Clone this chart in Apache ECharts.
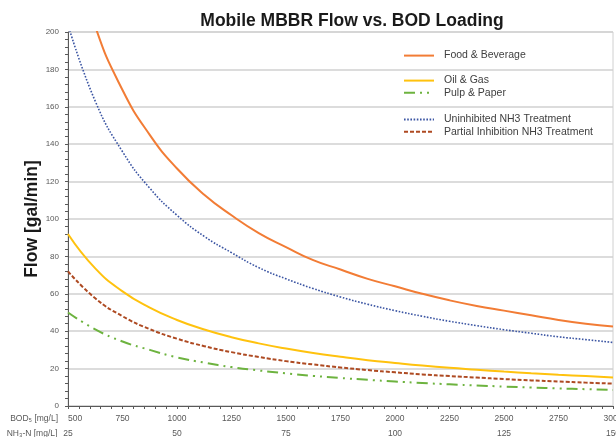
<!DOCTYPE html>
<html>
<head>
<meta charset="utf-8">
<script src="https://cdn.jsdelivr.net/npm/echarts@6/dist/echarts.min.js"></script>
<style>
  html, body { margin: 0; padding: 0; background: #fff; }
  #chart { width: 616px; height: 437px; }
</style>
</head>
<body>
<div id="chart"></div>
<script>
// BOD5 loading [mg/L]
var bod = [500, 625, 750, 875, 1000, 1125, 1250, 1375, 1500, 1625, 1750, 1875, 2000, 2125, 2250, 2375, 2500, 2625, 2750, 2875, 3000];
// flow [gal/min]
var foodBev = [254, 203, 169, 145, 127, 113, 102, 92.5, 85, 78, 73, 68, 64, 60, 56.5, 53.5, 51, 48.5, 46, 44, 42.5];
var oilGas = [92, 73.6, 61.3, 52.6, 46, 40.9, 36.8, 33.5, 30.7, 28.3, 26.3, 24.5, 23, 21.6, 20.4, 19.4, 18.4, 17.5, 16.7, 16, 15.3];
var pulpPaper = [50, 41, 34.5, 30, 26, 23.2, 20.8, 19, 17.5, 16.1, 15, 14, 13.1, 12.3, 11.6, 11, 10.4, 9.9, 9.4, 9, 8.6];
var uninhibited = [204, 163, 136, 116.5, 102, 90.7, 82, 74, 68, 62.8, 58.3, 54.4, 51, 48, 45.3, 43, 40.8, 38.9, 37, 35.5, 34];
var partial = [72, 57.6, 48, 41.1, 36, 32, 28.8, 26.2, 24, 22.2, 20.6, 19.2, 18, 16.9, 16, 15.2, 14.4, 13.7, 13.1, 12.5, 12];

function pairs(vals) {
  return bod.map(function (b, i) { return [b, vals[i]]; });
}

var chart = echarts.init(document.getElementById('chart'));
var labelFont = 'Liberation Sans';
var legendText = { fontFamily: labelFont, fontSize: 10.5, color: '#404040', padding: [0, 0, 0, 5] };

chart.setOption({
  animation: false,
  backgroundColor: '#fff',
  title: {
    text: 'Mobile MBBR Flow vs. BOD Loading',
    left: 347,
    textAlign: 'center',
    top: 7,
    textStyle: {
      fontFamily: labelFont,
      fontWeight: 'bold',
      fontSize: 17.5,
      color: '#1a1a1a'
    }
  },
  legend: [{
    data: ['Food & Beverage'],
    left: 398,
    top: 45,
    orient: 'vertical',
    itemWidth: 30,
    itemHeight: 14,
    itemStyle: { opacity: 0 },
    textStyle: legendText
  }, {
    data: ['Oil & Gas', 'Pulp & Paper'],
    left: 398,
    top: 70,
    orient: 'vertical',
    itemGap: 1,
    itemWidth: 30,
    itemHeight: 14,
    itemStyle: { opacity: 0 },
    textStyle: legendText
  }, {
    data: ['Uninhibited NH3 Treatment', 'Partial Inhibition NH3 Treatment'],
    left: 398,
    top: 109,
    orient: 'vertical',
    itemGap: 1,
    itemWidth: 30,
    itemHeight: 14,
    itemStyle: { opacity: 0 },
    textStyle: legendText
  }],
  grid: {
    left: 68,
    right: 3,
    top: 32,
    bottom: 31,
    outerBoundsMode: 'none',
    show: true,
    borderColor: '#d0d0d0',
    borderWidth: 1
  },
  xAxis: [{
    type: 'value',
    min: 500,
    max: 3000,
    interval: 250,
    position: 'bottom',
    name: 'BOD₅ [mg/L]',
    nameLocation: 'start',
    nameGap: 10,
    nameTextStyle: { fontFamily: labelFont, fontSize: 8.5, color: '#595959', verticalAlign: 'top', padding: [8, 0, 0, 0] },
    axisLine: { lineStyle: { color: '#595959', width: 1 } },
    axisTick: { show: true, inside: false, length: 3, lineStyle: { color: '#595959' } },
    minorTick: { show: true, splitNumber: 5, length: 3, lineStyle: { color: '#595959' } },
    splitLine: { show: false },
    axisLabel: {
      margin: 8,
      fontFamily: labelFont,
      fontSize: 8.5,
      color: '#595959',
      alignMinLabel: 'left',
      formatter: function (v) { return String(v); }
    }
  }, {
    type: 'value',
    min: 25,
    max: 150,
    interval: 25,
    position: 'bottom',
    offset: 15,
    name: 'NH₃-N [mg/L]',
    nameLocation: 'start',
    nameGap: 10,
    nameTextStyle: { fontFamily: labelFont, fontSize: 8.5, color: '#595959', verticalAlign: 'top', padding: [8, 0, 0, 0] },
    axisLine: { show: false },
    axisTick: { show: false },
    splitLine: { show: false },
    axisLabel: {
      margin: 8,
      fontFamily: labelFont,
      fontSize: 8.5,
      color: '#595959',
      formatter: function (v) { return String(v); }
    }
  }],
  yAxis: {
    type: 'value',
    min: 0,
    max: 200,
    interval: 20,
    name: 'Flow [gal/min]',
    nameLocation: 'middle',
    nameGap: 27,
    nameMoveOverlap: false,
    nameTextStyle: {
      fontFamily: labelFont,
      fontWeight: 'bold',
      fontSize: 17.5,
      color: '#1a1a1a'
    },
    axisLine: { show: true, lineStyle: { color: '#595959', width: 1 } },
    axisTick: { show: true, length: 3, lineStyle: { color: '#595959' } },
    minorTick: { show: true, splitNumber: 5, length: 3, lineStyle: { color: '#595959' } },
    splitLine: { lineStyle: { color: '#d0d0d0', width: 1.5 } },
    axisLabel: {
      margin: 9,
      fontFamily: labelFont,
      fontSize: 8,
      color: '#595959'
    }
  },
  series: [{
    name: 'Food & Beverage',
    type: 'line',
    smooth: true,
    symbol: 'none',
    data: pairs(foodBev),
    itemStyle: { color: '#F27C35' },
    lineStyle: { color: '#F27C35', width: 2 }
  }, {
    name: 'Oil & Gas',
    type: 'line',
    smooth: true,
    symbol: 'none',
    data: pairs(oilGas),
    itemStyle: { color: '#FFC20E' },
    lineStyle: { color: '#FFC20E', width: 2 }
  }, {
    name: 'Pulp & Paper',
    type: 'line',
    smooth: true,
    symbol: 'none',
    data: pairs(pulpPaper),
    itemStyle: { color: '#6DB33F' },
    lineStyle: { color: '#6DB33F', width: 2, type: [11, 5, 2, 5, 2, 5] }
  }, {
    name: 'Uninhibited NH3 Treatment',
    type: 'line',
    smooth: true,
    symbol: 'none',
    data: pairs(uninhibited),
    itemStyle: { color: '#3B55A3' },
    lineStyle: { color: '#3B55A3', width: 1.6, type: [1.6, 1.6] }
  }, {
    name: 'Partial Inhibition NH3 Treatment',
    type: 'line',
    smooth: true,
    symbol: 'none',
    data: pairs(partial),
    itemStyle: { color: '#AE4A22' },
    lineStyle: { color: '#AE4A22', width: 2, type: [4, 2] }
  }]
});
</script>
</body>
</html>
